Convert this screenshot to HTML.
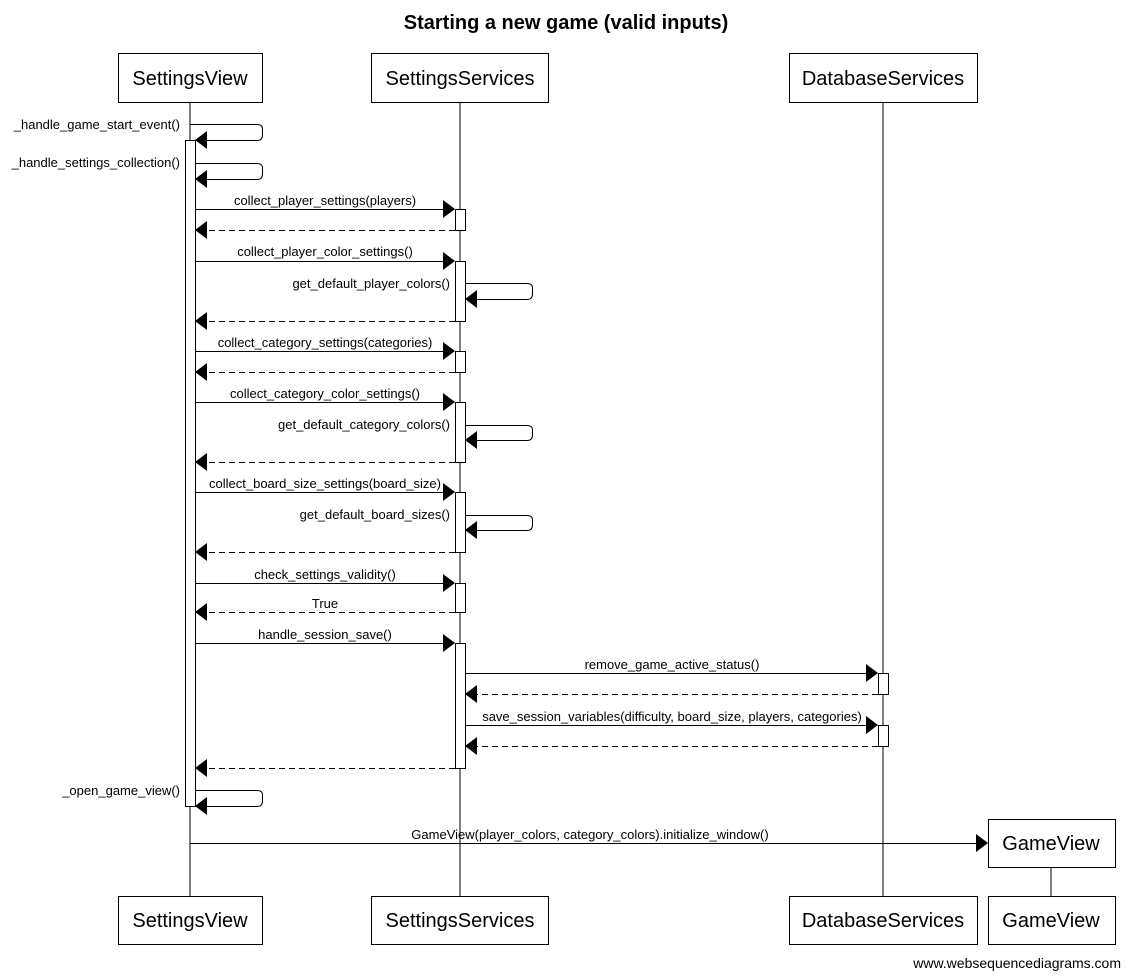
<!DOCTYPE html>
<html><head><meta charset="utf-8"><style>
html,body{margin:0;padding:0;background:#fff;}
svg{display:block;}
text{font-family:"Liberation Sans",Arial,sans-serif;fill:#000;}
.m{font-size:13px;}
.b{font-size:20px;}
</style></head><body>
<svg width="1130" height="979" viewBox="0 0 1130 979" xmlns="http://www.w3.org/2000/svg">
<text x="566" y="29" text-anchor="middle" font-size="20" font-weight="bold">Starting a new game (valid inputs)</text>
<g stroke="#000" stroke-width="1" fill="none">
<line x1="190" y1="102" x2="190" y2="896"/>
<line x1="460" y1="102" x2="460" y2="896"/>
<line x1="883" y1="102" x2="883" y2="896"/>
<line x1="1051" y1="867" x2="1051" y2="896"/>
</g>
<g stroke="#000" stroke-width="1" fill="#fff">
<rect x="118.5" y="53.5" width="144" height="49"/>
<rect x="371.5" y="53.5" width="177" height="49"/>
<rect x="789.5" y="53.5" width="188" height="49"/>
<rect x="118.5" y="896.5" width="144" height="48"/>
<rect x="371.5" y="896.5" width="177" height="48"/>
<rect x="789.5" y="896.5" width="188" height="48"/>
<rect x="988.5" y="819.5" width="127" height="48"/>
<rect x="988.5" y="896.5" width="127" height="48"/>
<rect x="185.5" y="140.5" width="10" height="666"/>
<rect x="455.5" y="209.5" width="10" height="21"/>
<rect x="455.5" y="261.5" width="10" height="60"/>
<rect x="455.5" y="351.5" width="10" height="21"/>
<rect x="455.5" y="402.5" width="10" height="60"/>
<rect x="455.5" y="492.5" width="10" height="60"/>
<rect x="455.5" y="583.5" width="10" height="29"/>
<rect x="455.5" y="643.5" width="10" height="125"/>
<rect x="878.5" y="673.5" width="10" height="21"/>
<rect x="878.5" y="725.5" width="10" height="21"/>
</g>
<g class="b" text-anchor="middle">
<text x="190" y="85">SettingsView</text>
<text x="460" y="85">SettingsServices</text>
<text x="883" y="85">DatabaseServices</text>
<text x="190" y="927">SettingsView</text>
<text x="460" y="927">SettingsServices</text>
<text x="883" y="927">DatabaseServices</text>
<text x="1051" y="850">GameView</text>
<text x="1051" y="927">GameView</text>
</g>
<g stroke="#000" fill="none">
<path d="M190 124.5 H257 Q262.5 124.5 262.5 129 V135 Q262.5 140.5 257 140.5 H197"/>
<path d="M195 163.5 H257 Q262.5 163.5 262.5 168 V174 Q262.5 179.5 257 179.5 H197"/>
<path d="M465 283.5 H527 Q532.5 283.5 532.5 288 V294 Q532.5 299.5 527 299.5 H467"/>
<path d="M465 425.5 H527 Q532.5 425.5 532.5 430 V435 Q532.5 440.5 527 440.5 H467"/>
<path d="M465 515.5 H527 Q532.5 515.5 532.5 520 V525 Q532.5 530.5 527 530.5 H467"/>
<path d="M195 790.5 H257 Q262.5 790.5 262.5 795 V801 Q262.5 806.5 257 806.5 H197"/>
</g>
<g fill="#000">
<polygon points="195,140 207,131 207,149"/>
<polygon points="195,179 207,170 207,188"/>
<polygon points="465,299 477,290 477,308"/>
<polygon points="465,440 477,431 477,449"/>
<polygon points="465,530 477,521 477,539"/>
<polygon points="195,806 207,797 207,815"/>
</g>
<g stroke="#000" fill="none">
<line x1="195" y1="209.5" x2="450" y2="209.5"/>
<line x1="195" y1="261.5" x2="450" y2="261.5"/>
<line x1="195" y1="351.5" x2="450" y2="351.5"/>
<line x1="195" y1="402.5" x2="450" y2="402.5"/>
<line x1="195" y1="492.5" x2="450" y2="492.5"/>
<line x1="195" y1="583.5" x2="450" y2="583.5"/>
<line x1="195" y1="643.5" x2="450" y2="643.5"/>
<line x1="465" y1="673.5" x2="873" y2="673.5"/>
<line x1="465" y1="725.5" x2="873" y2="725.5"/>
<line x1="190" y1="843.5" x2="982" y2="843.5"/>
</g>
<g fill="#000">
<polygon points="455,209 443,200 443,218"/>
<polygon points="455,261 443,252 443,270"/>
<polygon points="455,351 443,342 443,360"/>
<polygon points="455,402 443,393 443,411"/>
<polygon points="455,492 443,483 443,501"/>
<polygon points="455,583 443,574 443,592"/>
<polygon points="455,643 443,634 443,652"/>
<polygon points="878,673 866,664 866,682"/>
<polygon points="878,725 866,716 866,734"/>
<polygon points="988,843 976,834 976,852"/>
</g>
<g stroke="#000" fill="none" stroke-dasharray="6,4">
<line x1="455" y1="230.5" x2="200" y2="230.5"/>
<line x1="455" y1="321.5" x2="200" y2="321.5"/>
<line x1="455" y1="372.5" x2="200" y2="372.5"/>
<line x1="455" y1="462.5" x2="200" y2="462.5"/>
<line x1="455" y1="552.5" x2="200" y2="552.5"/>
<line x1="455" y1="612.5" x2="200" y2="612.5"/>
<line x1="878" y1="694.5" x2="470" y2="694.5"/>
<line x1="878" y1="746.5" x2="470" y2="746.5"/>
<line x1="455" y1="768.5" x2="200" y2="768.5"/>
</g>
<g fill="#000">
<polygon points="195,230 207,221 207,239"/>
<polygon points="195,321 207,312 207,330"/>
<polygon points="195,372 207,363 207,381"/>
<polygon points="195,462 207,453 207,471"/>
<polygon points="195,552 207,543 207,561"/>
<polygon points="195,612 207,603 207,621"/>
<polygon points="465,694 477,685 477,703"/>
<polygon points="465,746 477,737 477,755"/>
<polygon points="195,768 207,759 207,777"/>
</g>
<g class="m" text-anchor="end">
<text x="180" y="129">_handle_game_start_event()</text>
<text x="180" y="167">_handle_settings_collection()</text>
<text x="450" y="288">get_default_player_colors()</text>
<text x="450" y="429">get_default_category_colors()</text>
<text x="450" y="519">get_default_board_sizes()</text>
<text x="180" y="795">_open_game_view()</text>
</g>
<g class="m" text-anchor="middle">
<text x="325" y="205">collect_player_settings(players)</text>
<text x="325" y="256">collect_player_color_settings()</text>
<text x="325" y="347">collect_category_settings(categories)</text>
<text x="325" y="398">collect_category_color_settings()</text>
<text x="325" y="488">collect_board_size_settings(board_size)</text>
<text x="325" y="579">check_settings_validity()</text>
<text x="325" y="608">True</text>
<text x="325" y="639">handle_session_save()</text>
<text x="672" y="669">remove_game_active_status()</text>
<text x="672" y="721">save_session_variables(difficulty, board_size, players, categories)</text>
<text x="590" y="839">GameView(player_colors, category_colors).initialize_window()</text>
</g>
<text x="1121" y="968" text-anchor="end" font-size="14">www.websequencediagrams.com</text>
</svg>
</body></html>
